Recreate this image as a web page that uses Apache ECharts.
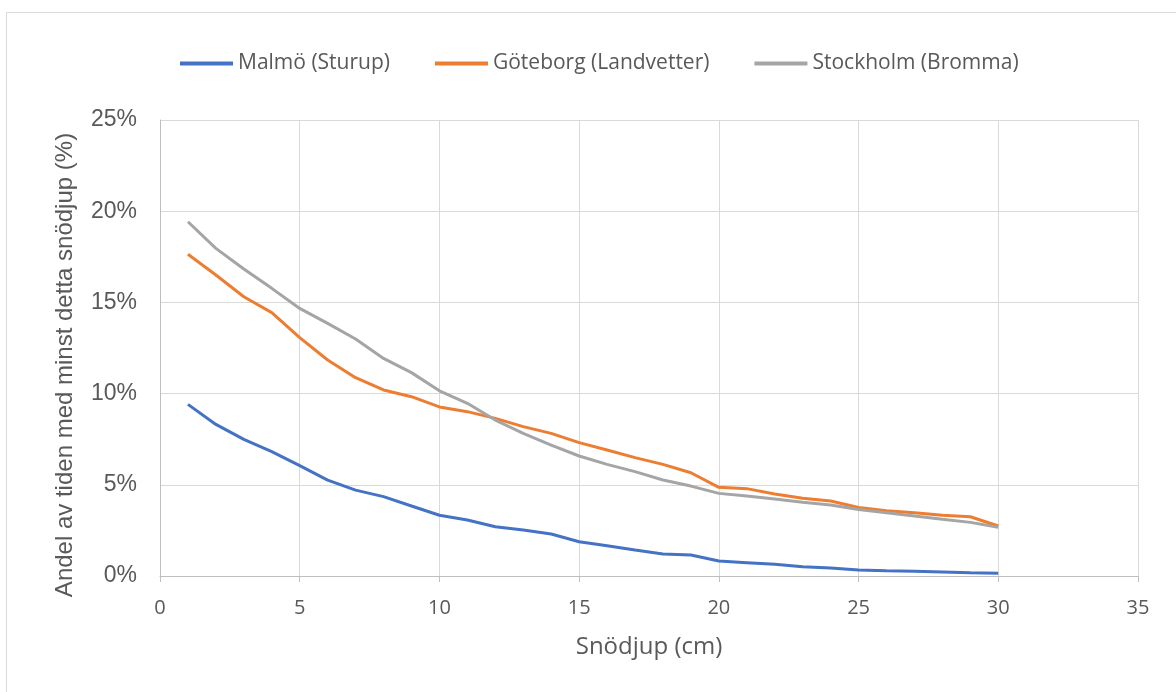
<!DOCTYPE html>
<html><head><meta charset="utf-8">
<script src="https://cdn.jsdelivr.net/npm/echarts@6/dist/echarts.min.js"></script>
<style>html,body{margin:0;padding:0;background:#fff}#c{width:1176px;height:692px}</style>
</head><body><div id="c"></div>
<script>
const depths = [1,2,3,4,5,6,7,8,9,10,11,12,13,14,15,16,17,18,19,20,21,22,23,24,25,26,27,28,29,30];
const malmo = [9.41,8.31,7.49,6.82,6.05,5.26,4.71,4.35,3.84,3.33,3.07,2.70,2.52,2.30,1.88,1.66,1.43,1.21,1.15,0.82,0.73,0.64,0.51,0.44,0.33,0.29,0.26,0.22,0.18,0.15];
const goteborg = [17.64,16.50,15.31,14.44,13.07,11.84,10.87,10.20,9.83,9.27,9.01,8.64,8.19,7.82,7.31,6.91,6.49,6.12,5.66,4.86,4.79,4.50,4.26,4.11,3.76,3.58,3.47,3.33,3.25,2.74];
const stockholm = [19.42,17.96,16.83,15.77,14.67,13.85,12.99,11.93,11.15,10.15,9.47,8.55,7.82,7.18,6.58,6.12,5.72,5.26,4.93,4.53,4.39,4.22,4.04,3.89,3.65,3.47,3.29,3.11,2.94,2.67];
const seriesNames = ['Malmö (Sturup)','Göteborg (Landvetter)','Stockholm (Bromma)'];
const colors = ['#4472C4','#ED7D31','#A5A5A5'];
const xTitle = 'Snödjup (cm)';
const yTitle = 'Andel av tiden med minst detta snödjup (%)';

const pair = arr => depths.map((d,i)=>[d,arr[i]]);
const chart = echarts.init(document.getElementById('c'));
const sans = "'Open Sans', sans-serif";
const arial = "'Liberation Sans', Arial, sans-serif";
chart.setOption({
  animation:false,
  graphic:[
    {type:'rect',shape:{x:6.5,y:12.5,width:1300,height:800},style:{fill:'none',stroke:'#d9d9d9',lineWidth:1},silent:true,z:-1},
    {type:'text',x:65,y:365,rotation:Math.PI/2,style:{text:yTitle,fontFamily:arial,fontSize:24,fill:'#595959',align:'center',verticalAlign:'middle'},silent:true}
  ],
  legend:{
    top:48, left:175, itemWidth:53, itemHeight:4, itemGap:45, icon:'rect',
    textStyle:{fontFamily:sans,fontSize:21,color:'#595959'},
    data:seriesNames
  },
  grid:{left:160,right:38,top:120,bottom:116},
  xAxis:{
    type:'value',min:0,max:35,interval:5,
    name:xTitle,nameLocation:'middle',nameGap:59,
    nameTextStyle:{fontFamily:sans,fontSize:24,color:'#595959'},
    axisLine:{show:true,lineStyle:{color:'#bfbfbf',width:1}},
    axisTick:{show:true,length:6,lineStyle:{color:'#bfbfbf'}},
    axisLabel:{fontFamily:sans,fontSize:20,color:'#595959',margin:22},
    splitLine:{show:true,lineStyle:{color:'#d9d9d9',width:1}}
  },
  yAxis:{
    type:'value',min:0,max:25,interval:5,
    axisLine:{show:true,lineStyle:{color:'#bfbfbf',width:1}},
    axisTick:{show:false},
    axisLabel:{formatter:'{value}%',fontFamily:arial,fontSize:23,color:'#595959',margin:23},
    splitLine:{show:true,lineStyle:{color:'#d9d9d9',width:1}}
  },
  series:[malmo,goteborg,stockholm].map((arr,i)=>({
    name:seriesNames[i],type:'line',data:pair(arr),showSymbol:false,symbol:'none',
    lineStyle:{color:colors[i],width:3},itemStyle:{color:colors[i]},
    emphasis:{disabled:true}
  }))
});
</script></body></html>
